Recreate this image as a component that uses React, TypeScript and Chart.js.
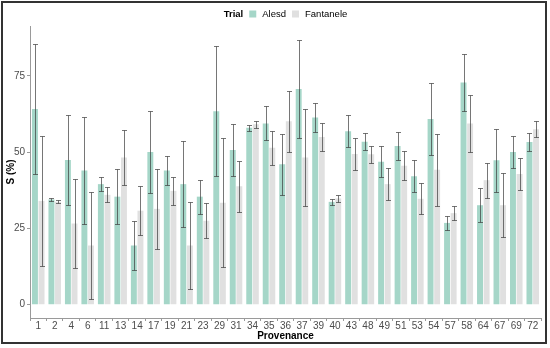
import React, { useEffect, useRef } from 'react';
import { Chart, registerables } from 'chart.js';

Chart.register(...registerables);

const categories = ['1', '2', '4', '6', '11', '13', '14', '17', '19', '21', '23', '29', '31', '34', '35', '36', '37', '39', '40', '43', '48', '49', '51', '53', '54', '57', '58', '64', '67', '69', '72'];

const alesd = [64.1, 34.5, 47.4, 44.0, 39.5, 35.4, 19.4, 50.0, 44.0, 39.5, 35.4, 63.4, 50.7, 58.0, 59.4, 46.0, 70.7, 61.3, 33.7, 56.8, 53.4, 46.8, 52.0, 42.1, 60.8, 26.8, 72.8, 32.6, 47.3, 50.0, 53.3];
const alesdErr = [21.2, 0.4, 14.6, 17.5, 2.2, 9.0, 8.0, 13.3, 4.7, 14.2, 5.6, 21.2, 8.5, 1.0, 5.6, 10.0, 16.0, 4.8, 1.0, 5.2, 2.8, 5.1, 4.7, 5.2, 11.8, 2.2, 9.4, 5.6, 10.4, 5.2, 2.8];

const fantanele = [34.0, 33.7, 26.6, 19.4, 36.0, 48.2, 30.8, 31.4, 37.3, 19.4, 27.5, 33.4, 38.8, 59.1, 51.4, 60.1, 48.2, 54.9, 34.8, 49.4, 49.3, 39.5, 45.5, 34.7, 44.2, 30.0, 59.4, 40.8, 32.6, 42.8, 57.5];
const fantaneleErr = [21.4, 0.5, 14.6, 17.4, 2.4, 8.9, 8.1, 13.2, 4.7, 14.1, 5.7, 21.2, 8.4, 1.1, 5.6, 10.0, 16.0, 4.7, 1.2, 5.2, 2.8, 5.2, 4.7, 5.1, 11.8, 2.2, 9.4, 5.7, 10.4, 5.3, 2.7];

const yTicks = [0, 25, 50, 75];
const seriesNames = ['Alesd', 'Fantanele'];
const legendTitle = 'Trial';

const GREEN = '#a5d6c8';
const GREY = '#e0e0e0';
const FONT = "'Liberation Sans', Arial, sans-serif";

const errorBarPlugin = {
  id: 'errorBars',
  afterDatasetsDraw(chart: any) {
    const ctx = chart.ctx;
    const y = chart.scales.y;
    chart.data.datasets.forEach((ds: any, di: number) => {
      const meta = chart.getDatasetMeta(di);
      meta.data.forEach((bar: any, i: number) => {
        const v = ds.data[i];
        const e = ds.errors[i];
        const top = Math.round(y.getPixelForValue(v + e)) + 0.5;
        const bot = Math.round(y.getPixelForValue(v - e)) + 0.5;
        const x = Math.round(bar.x) + 0.5;
        ctx.save();
        ctx.strokeStyle = 'rgba(60,60,60,0.7)';
        ctx.lineWidth = 1;
        ctx.beginPath();
        ctx.moveTo(x, top);
        ctx.lineTo(x, bot);
        ctx.moveTo(x - 2.5, top);
        ctx.lineTo(x + 2.5, top);
        ctx.moveTo(x - 2.5, bot);
        ctx.lineTo(x + 2.5, bot);
        ctx.stroke();
        ctx.restore();
      });
    });
  },
};

const legendFramePlugin = {
  id: 'legendFrame',
  beforeDraw(chart: any) {
    const ctx = chart.ctx;
    ctx.save();
    ctx.fillStyle = '#ffffff';
    ctx.fillRect(0, 0, chart.width, chart.height);
    ctx.restore();
  },
  afterDraw(chart: any) {
    const ctx = chart.ctx;
    const area = chart.chartArea;
    ctx.save();
    // outer frame
    ctx.strokeStyle = '#333333';
    ctx.lineWidth = 2;
    ctx.strokeRect(2, 2, chart.width - 6, chart.height - 7);

    // legend
    ctx.textBaseline = 'middle';
    ctx.font = `bold 9.5px ${FONT}`;
    const titleW = ctx.measureText(legendTitle).width;
    ctx.font = `9.5px ${FONT}`;
    const w1 = ctx.measureText(seriesNames[0]).width;
    const w2 = ctx.measureText(seriesNames[1]).width;
    const sq = 7;
    const gap = 6;
    const total = titleW + gap + sq + gap + w1 + gap + sq + gap + w2;
    let x = (area.left + area.right) / 2 - total / 2;
    const yc = 14;
    ctx.fillStyle = '#000000';
    ctx.font = `bold 9.5px ${FONT}`;
    ctx.fillText(legendTitle, x, yc);
    x += titleW + gap;
    ctx.fillStyle = GREEN;
    ctx.fillRect(x, yc - sq / 2, sq, sq);
    x += sq + gap;
    ctx.fillStyle = '#000000';
    ctx.font = `9.5px ${FONT}`;
    ctx.fillText(seriesNames[0], x, yc);
    x += w1 + gap;
    ctx.fillStyle = GREY;
    ctx.fillRect(x, yc - sq / 2, sq, sq);
    x += sq + gap;
    ctx.fillStyle = '#000000';
    ctx.fillText(seriesNames[1], x, yc);
    ctx.restore();
  },
};

export default function App() {
  const ref = useRef<HTMLCanvasElement>(null);

  useEffect(() => {
    document.body.style.margin = '0';
    Chart.defaults.font.family = FONT;
    const canvas = ref.current;
    if (!canvas) return;
    const chart = new Chart(canvas, {
      type: 'bar',
      data: {
        labels: categories,
        datasets: [
          { label: seriesNames[0], data: alesd, errors: alesdErr, backgroundColor: GREEN, borderWidth: 0 } as any,
          { label: seriesNames[1], data: fantanele, errors: fantaneleErr, backgroundColor: GREY, borderWidth: 0 } as any,
        ],
      },
      options: {
        responsive: false,
        animation: false,
        layout: { padding: { left: 5, top: 26, right: 9, bottom: 6 } },
        plugins: {
          legend: { display: false },
          tooltip: { enabled: false },
        },
        scales: {
          x: {
            categoryPercentage: 0.7,
            barPercentage: 1.0,
            grid: { display: true, drawOnChartArea: false, drawTicks: true, tickLength: 3, color: '#9a9a9a' },
            border: { display: true, color: '#9a9a9a', width: 1 },
            ticks: { color: '#4d4d4d', font: { size: 10 }, padding: -1, maxRotation: 0, autoSkip: false },
            title: { display: true, text: 'Provenance', color: '#000000', font: { size: 10, weight: 'bold' }, padding: { top: 0, bottom: 0 } },
            afterFit: (s: any) => { s.height = 24; },
          } as any,
          y: {
            min: -4.35,
            max: 91.3,
            afterBuildTicks: (s: any) => { s.ticks = yTicks.map((v) => ({ value: v })); },
            grid: { display: true, drawOnChartArea: false, drawTicks: true, tickLength: 3, color: '#9a9a9a' },
            border: { display: true, color: '#9a9a9a', width: 1 },
            ticks: { color: '#4d4d4d', font: { size: 10 }, padding: 2 },
            title: { display: true, text: 'S (%)', color: '#000000', font: { size: 10, weight: 'bold' }, padding: { top: 0, bottom: 0 } },
            afterFit: (s: any) => { s.width = 25; },
          } as any,
        },
      },
      plugins: [errorBarPlugin, legendFramePlugin],
    });
    return () => chart.destroy();
  }, []);

  return <canvas ref={ref} width={550} height={348} style={{ display: 'block' }} />;
}
